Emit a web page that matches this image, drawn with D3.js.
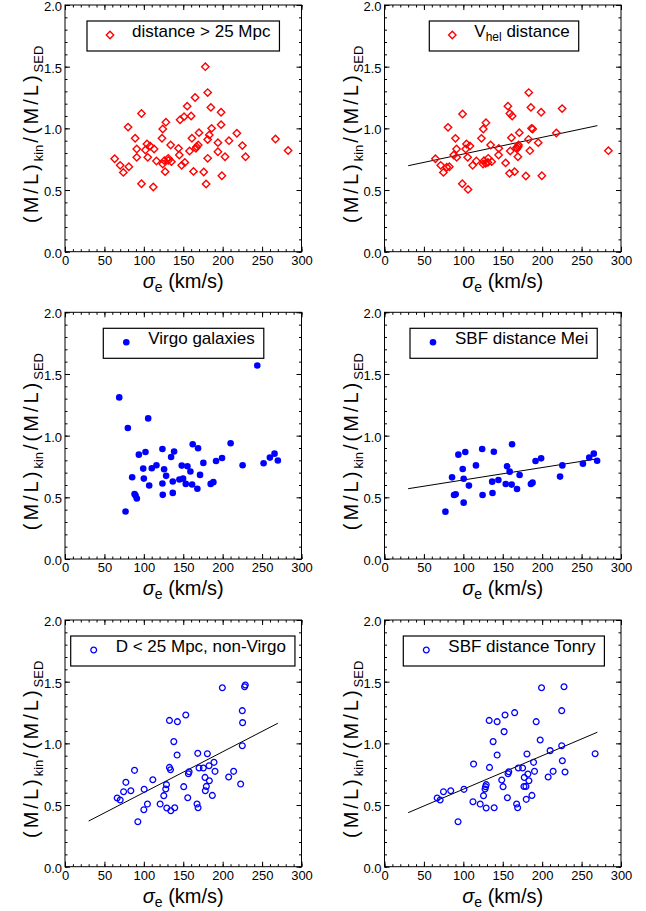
<!DOCTYPE html>
<html><head><meta charset="utf-8">
<script src="https://cdn.jsdelivr.net/npm/d3@7"></script>
<style>
body{margin:0;background:#fff;}
svg{display:block;font-family:"Liberation Sans",Arial,Helvetica,sans-serif;}
</style></head><body>
<svg id="c" width="646" height="911"></svg>
<script>
// ---------- data ----------
const xTicks = [0, 50, 100, 150, 200, 250, 300];
const yTicks = [0.0, 0.5, 1.0, 1.5, 2.0];

// Panel 1: distance > 25 Mpc
const p1Sigma = [178,181,165,185,198,155,151,160,146,128,97,124,80,186,198,170,161,89,123,183,181,218,208,194,225,267,283,104,108,113,91,102,134,144,167,169,166,158,145,194,203,229,63,91,105,116,126,131,135,131,124,181,152,148,70,81,74,127,163,176,199,97,112,179];
const p1Ratio = [1.50,1.29,1.25,1.17,1.13,1.18,1.095,1.10,1.07,1.05,1.12,0.995,1.01,1.00,1.03,0.965,0.92,0.92,0.92,0.946,0.91,0.96,0.90,0.884,0.86,0.914,0.82,0.873,0.857,0.833,0.833,0.824,0.865,0.838,0.851,0.865,0.838,0.816,0.784,0.81,0.77,0.77,0.754,0.765,0.765,0.735,0.738,0.757,0.73,0.74,0.711,0.757,0.724,0.70,0.70,0.689,0.643,0.649,0.651,0.646,0.616,0.551,0.524,0.549];

// Panel 2: V_hel distance
const p2Sigma = [183,156.5,159,162,185.7,198.7,225.3,99,128.7,125.3,80.6,186.5,188,171,161,90,123,182.7,218,195,104,108.4,91.4,103,134.6,145,169.6,167.5,170,168,159.5,144.7,184.4,284,87.8,91.6,105.5,169.2,116.5,126.2,131.6,136,131.2,125,111.8,64.6,71.3,82.3,79,74.7,128.3,153.6,158.6,165,179.3,199.6,98.7,106];
const p2Ratio = [1.29,1.18,1.12,1.10,1.17,1.13,1.16,1.116,1.046,0.995,1.008,1.00,0.995,0.965,0.924,0.919,0.919,0.911,0.962,0.884,0.873,0.857,0.833,0.833,0.865,0.838,0.851,0.845,0.865,0.835,0.816,0.784,0.819,0.819,0.784,0.765,0.765,0.77,0.735,0.738,0.757,0.73,0.724,0.711,0.70,0.754,0.70,0.689,0.685,0.643,0.716,0.72,0.635,0.649,0.614,0.616,0.551,0.505];
const p2Fit = [[30, 0.697], [270, 1.022]];

// Panel 3: Virgo galaxies
const p3Sigma = [243.9,68.8,105.5,79.7,210.1,162,168.8,123.6,138.4,102.1,93.7,134.6,265.8,259.9,270,199.2,191.6,175.5,251.9,225.3,116,148.1,155.3,110.1,99.2,125.7,159.1,128.3,171.3,85.2,100,149.8,145.1,136.7,153.2,161.2,123.6,106.8,188.2,184.8,167.9,88.2,89.5,91.1,124,136.7,76.8];
const p3Ratio = [1.569,1.31,1.14,1.062,0.938,0.93,0.898,0.892,0.871,0.868,0.846,0.827,0.854,0.822,0.798,0.819,0.795,0.779,0.776,0.760,0.760,0.757,0.752,0.736,0.733,0.728,0.709,0.674,0.682,0.663,0.652,0.652,0.644,0.628,0.609,0.604,0.612,0.596,0.623,0.609,0.569,0.526,0.515,0.49,0.52,0.536,0.385];

// Panel 4: SBF distance Mei
const p4Sigma = [161.8,123.9,102.5,138.7,93.7,265.5,259.7,269.7,251.7,225.6,198.7,191.6,222.7,116,155.5,158.8,99.2,171.4,85.7,100.4,144.5,136.6,107.1,153.8,161.3,185.7,187.8,168.1,88.2,90.3,124.4,137,100.4,77.3];
const p4Ratio = [0.93,0.892,0.868,0.870,0.846,0.854,0.822,0.797,0.773,0.759,0.816,0.795,0.668,0.759,0.751,0.708,0.730,0.681,0.662,0.651,0.641,0.627,0.595,0.608,0.603,0.608,0.619,0.568,0.519,0.524,0.519,0.535,0.457,0.384];
const p4Fit = [[30, 0.57], [270, 0.812]];

// Panel 5: D < 25 Mpc, non-Virgo
const p5Sigma = [228.7,227.8,199.6,224.9,153.2,132.5,142.6,225.3,138,224.9,168.4,180.6,142.2,189,182.7,132.5,133.8,170,175.5,157.4,156.5,190.3,213.9,88.2,111.4,77.2,177.6,207.6,183.1,128.7,150.6,179.3,127.8,100.4,83.5,74.3,178,222.8,125.3,186.9,155.7,66.2,70,104.6,120.7,167.5,100,129.1,139.2,134.2,168.8,92.4];
const p5Ratio = [1.473,1.459,1.451,1.265,1.23,1.186,1.176,1.168,1.014,0.981,0.919,0.916,0.905,0.846,0.819,0.805,0.786,0.80,0.80,0.77,0.754,0.773,0.773,0.781,0.705,0.684,0.724,0.727,0.697,0.665,0.649,0.651,0.630,0.627,0.616,0.608,0.616,0.67,0.576,0.578,0.559,0.557,0.541,0.508,0.508,0.508,0.462,0.476,0.478,0.454,0.478,0.365];
const p5Fit = [[30, 0.37], [270, 1.163]];

// Panel 6: SBF distance Tonry
const p6Sigma = [199.2,227.7,224.8,165.1,152.9,132.8,142.9,192.4,151.7,137.8,197.5,224.8,210.1,267.2,180.7,142.9,113,189.1,225.6,133.2,169.7,175.2,157.6,156.7,190.3,213.9,229,181.9,177.3,207.6,183.2,148.7,129,128.2,150.4,179.4,176.9,100.8,84,74.8,125.6,187,155.9,66.8,70.6,112.2,121.4,167.6,129,139.1,168.9,179.8,93.3,127.5];
const p6Ratio = [1.451,1.459,1.265,1.249,1.23,1.186,1.176,1.176,1.095,1.014,1.027,0.981,0.941,0.916,0.914,0.905,0.832,0.846,0.859,0.805,0.80,0.80,0.77,0.754,0.773,0.773,0.768,0.751,0.724,0.727,0.697,0.703,0.665,0.649,0.649,0.651,0.65,0.627,0.616,0.608,0.576,0.578,0.559,0.557,0.541,0.527,0.508,0.508,0.476,0.478,0.478,0.546,0.365,0.63];
const p6Fit = [[30, 0.438], [270, 1.09]];

// ---------- layout ----------
const colLeft = [65, 384.5];
const rowTop = [5, 312.3, 620];
const plotW = 236.5, plotH = 246.7;
const RED = "#ff0000", BLUE = "#0000ff";

const panels = [
  {sigma:p1Sigma, ratio:p1Ratio, fit:null,  marker:"diamond", color:RED,  col:0,row:0, legLeft:22,   label:[["distance > 25 Mpc",0]]},
  {sigma:p2Sigma, ratio:p2Ratio, fit:p2Fit, marker:"diamond", color:RED,  col:1,row:0, legLeft:44.8, label:[["V",0],["hel",1],[" distance",0]]},
  {sigma:p3Sigma, ratio:p3Ratio, fit:null,  marker:"filled",  color:BLUE, col:0,row:1, legLeft:38.3, label:[["Virgo galaxies",0]]},
  {sigma:p4Sigma, ratio:p4Ratio, fit:p4Fit, marker:"filled",  color:BLUE, col:1,row:1, legLeft:25.5, label:[["SBF distance Mei",0]]},
  {sigma:p5Sigma, ratio:p5Ratio, fit:p5Fit, marker:"open",    color:BLUE, col:0,row:2, legLeft:5.7,  label:[["D < 25 Mpc, non-Virgo",0]]},
  {sigma:p6Sigma, ratio:p6Ratio, fit:p6Fit, marker:"open",    color:BLUE, col:1,row:2, legLeft:18.8, label:[["SBF distance Tonry",0]]}
];

const svg = d3.select("#c");

function drawMarker(sel, type, color) {
  if (type === "diamond") {
    const r = 3.7;
    sel.append("path").attr("d", `M0,${-r}L${r},0L0,${r}L${-r},0Z`)
      .attr("fill","none").attr("stroke",color).attr("stroke-width",1.4);
  } else if (type === "filled") {
    sel.append("circle").attr("r",3.3).attr("fill",color);
  } else {
    sel.append("circle").attr("r",2.9).attr("fill","none").attr("stroke",color).attr("stroke-width",1.3);
  }
}

panels.forEach(p => {
  const x0 = colLeft[p.col], y0 = rowTop[p.row];
  const g = svg.append("g").attr("transform", `translate(${x0},${y0})`);
  const x = d3.scaleLinear().domain([0,300]).range([0,plotW]);
  const y = d3.scaleLinear().domain([0,2]).range([plotH,0]);
  const minorX = d3.range(0,301,10), minorY = d3.range(0,2.0001,0.1).map(v=>+v.toFixed(1));

  const styleAxis = a => { a.select(".domain").remove(); a.selectAll("line").attr("stroke","#000"); };

  // minor ticks
  g.append("g").attr("transform",`translate(0,${plotH})`).call(d3.axisBottom(x).tickValues(minorX).tickFormat("").tickSizeInner(-2.5).tickSizeOuter(0)).call(styleAxis);
  g.append("g").call(d3.axisTop(x).tickValues(minorX).tickFormat("").tickSizeInner(-2.5).tickSizeOuter(0)).call(styleAxis);
  g.append("g").call(d3.axisLeft(y).tickValues(minorY).tickFormat("").tickSizeInner(-2.5).tickSizeOuter(0)).call(styleAxis);
  g.append("g").attr("transform",`translate(${plotW},0)`).call(d3.axisRight(y).tickValues(minorY).tickFormat("").tickSizeInner(-2.5).tickSizeOuter(0)).call(styleAxis);

  // major ticks with labels
  const xb = g.append("g").attr("transform",`translate(0,${plotH})`)
    .call(d3.axisBottom(x).tickValues(xTicks).tickFormat(d3.format("d")).tickSizeInner(-5).tickSizeOuter(0).tickPadding(4)).call(styleAxis);
  xb.selectAll("text").attr("font-size",13).attr("fill","#000").attr("font-family",null);
  g.append("g").call(d3.axisTop(x).tickValues(xTicks).tickFormat("").tickSizeInner(-5).tickSizeOuter(0)).call(styleAxis);
  const yl = g.append("g").call(d3.axisLeft(y).tickValues(yTicks).tickFormat(d3.format(".1f")).tickSizeInner(-5).tickSizeOuter(0).tickPadding(3)).call(styleAxis);
  yl.selectAll("text").attr("font-size",13).attr("fill","#000").attr("font-family",null).attr("dy","0.42em");
  g.append("g").attr("transform",`translate(${plotW},0)`).call(d3.axisRight(y).tickValues(yTicks).tickFormat("").tickSizeInner(-5).tickSizeOuter(0)).call(styleAxis);

  // frame
  g.append("rect").attr("width",plotW).attr("height",plotH).attr("fill","none").attr("stroke","#000").attr("stroke-width",1);

  // fit line
  if (p.fit) {
    g.append("path").datum(p.fit)
      .attr("d", d3.line().x(d=>x(d[0])).y(d=>y(d[1])))
      .attr("fill","none").attr("stroke","#000").attr("stroke-width",1);
  }

  // points
  const pts = g.append("g");
  p.sigma.forEach((s,i) => {
    const m = pts.append("g").attr("transform",`translate(${x(s)},${y(p.ratio[i])})`);
    drawMarker(m, p.marker, p.color);
  });

  // legend
  const lg = g.append("g");
  const bx = p.legLeft, by = 16, bh = 30;
  const mx = bx + 23, my = by + 14;
  const t = lg.append("text").attr("x", mx + 22).attr("y", by + 20).attr("font-size",17).attr("fill","#000");
  p.label.forEach(([s,sub]) => {
    if (sub) t.append("tspan").attr("font-size",12).attr("dy",4).text(s);
    else t.append("tspan").attr("dy", t.selectAll("tspan").size() ? -4 : 0).text(s);
  });
  const tw = t.node().getComputedTextLength();
  lg.insert("rect","text").attr("x",bx).attr("y",by).attr("width", (mx+22+tw+9) - bx).attr("height",bh)
    .attr("fill","#fff").attr("stroke","#000").attr("stroke-width",1.2);
  const lm = lg.append("g").attr("transform",`translate(${mx},${my})`);
  drawMarker(lm, p.marker, p.color);

  // y title
  const yt = g.append("text").attr("transform",`translate(${-27},${plotH/2+6}) rotate(-90)`)
    .attr("text-anchor","middle").attr("font-size",20).attr("fill","#000");
  yt.append("tspan").attr("letter-spacing",3).text("(M/L)");
  yt.append("tspan").attr("font-size",13).attr("dy",5).text("kin");
  yt.append("tspan").attr("dy",-5).attr("letter-spacing",3).attr("dx",2).text("/(M/L)");
  yt.append("tspan").attr("font-size",13).attr("dy",5).text("SED");

  // x title
  const xt = g.append("text").attr("x", plotW/2).attr("y", plotH+36)
    .attr("text-anchor","middle").attr("font-size",20).attr("fill","#000");
  xt.append("tspan").attr("font-style","italic").text("σ");
  xt.append("tspan").attr("font-size",14).attr("dy",4).text("e");
  xt.append("tspan").attr("dy",-4).text(" (km/s)");
});
</script></body></html>
